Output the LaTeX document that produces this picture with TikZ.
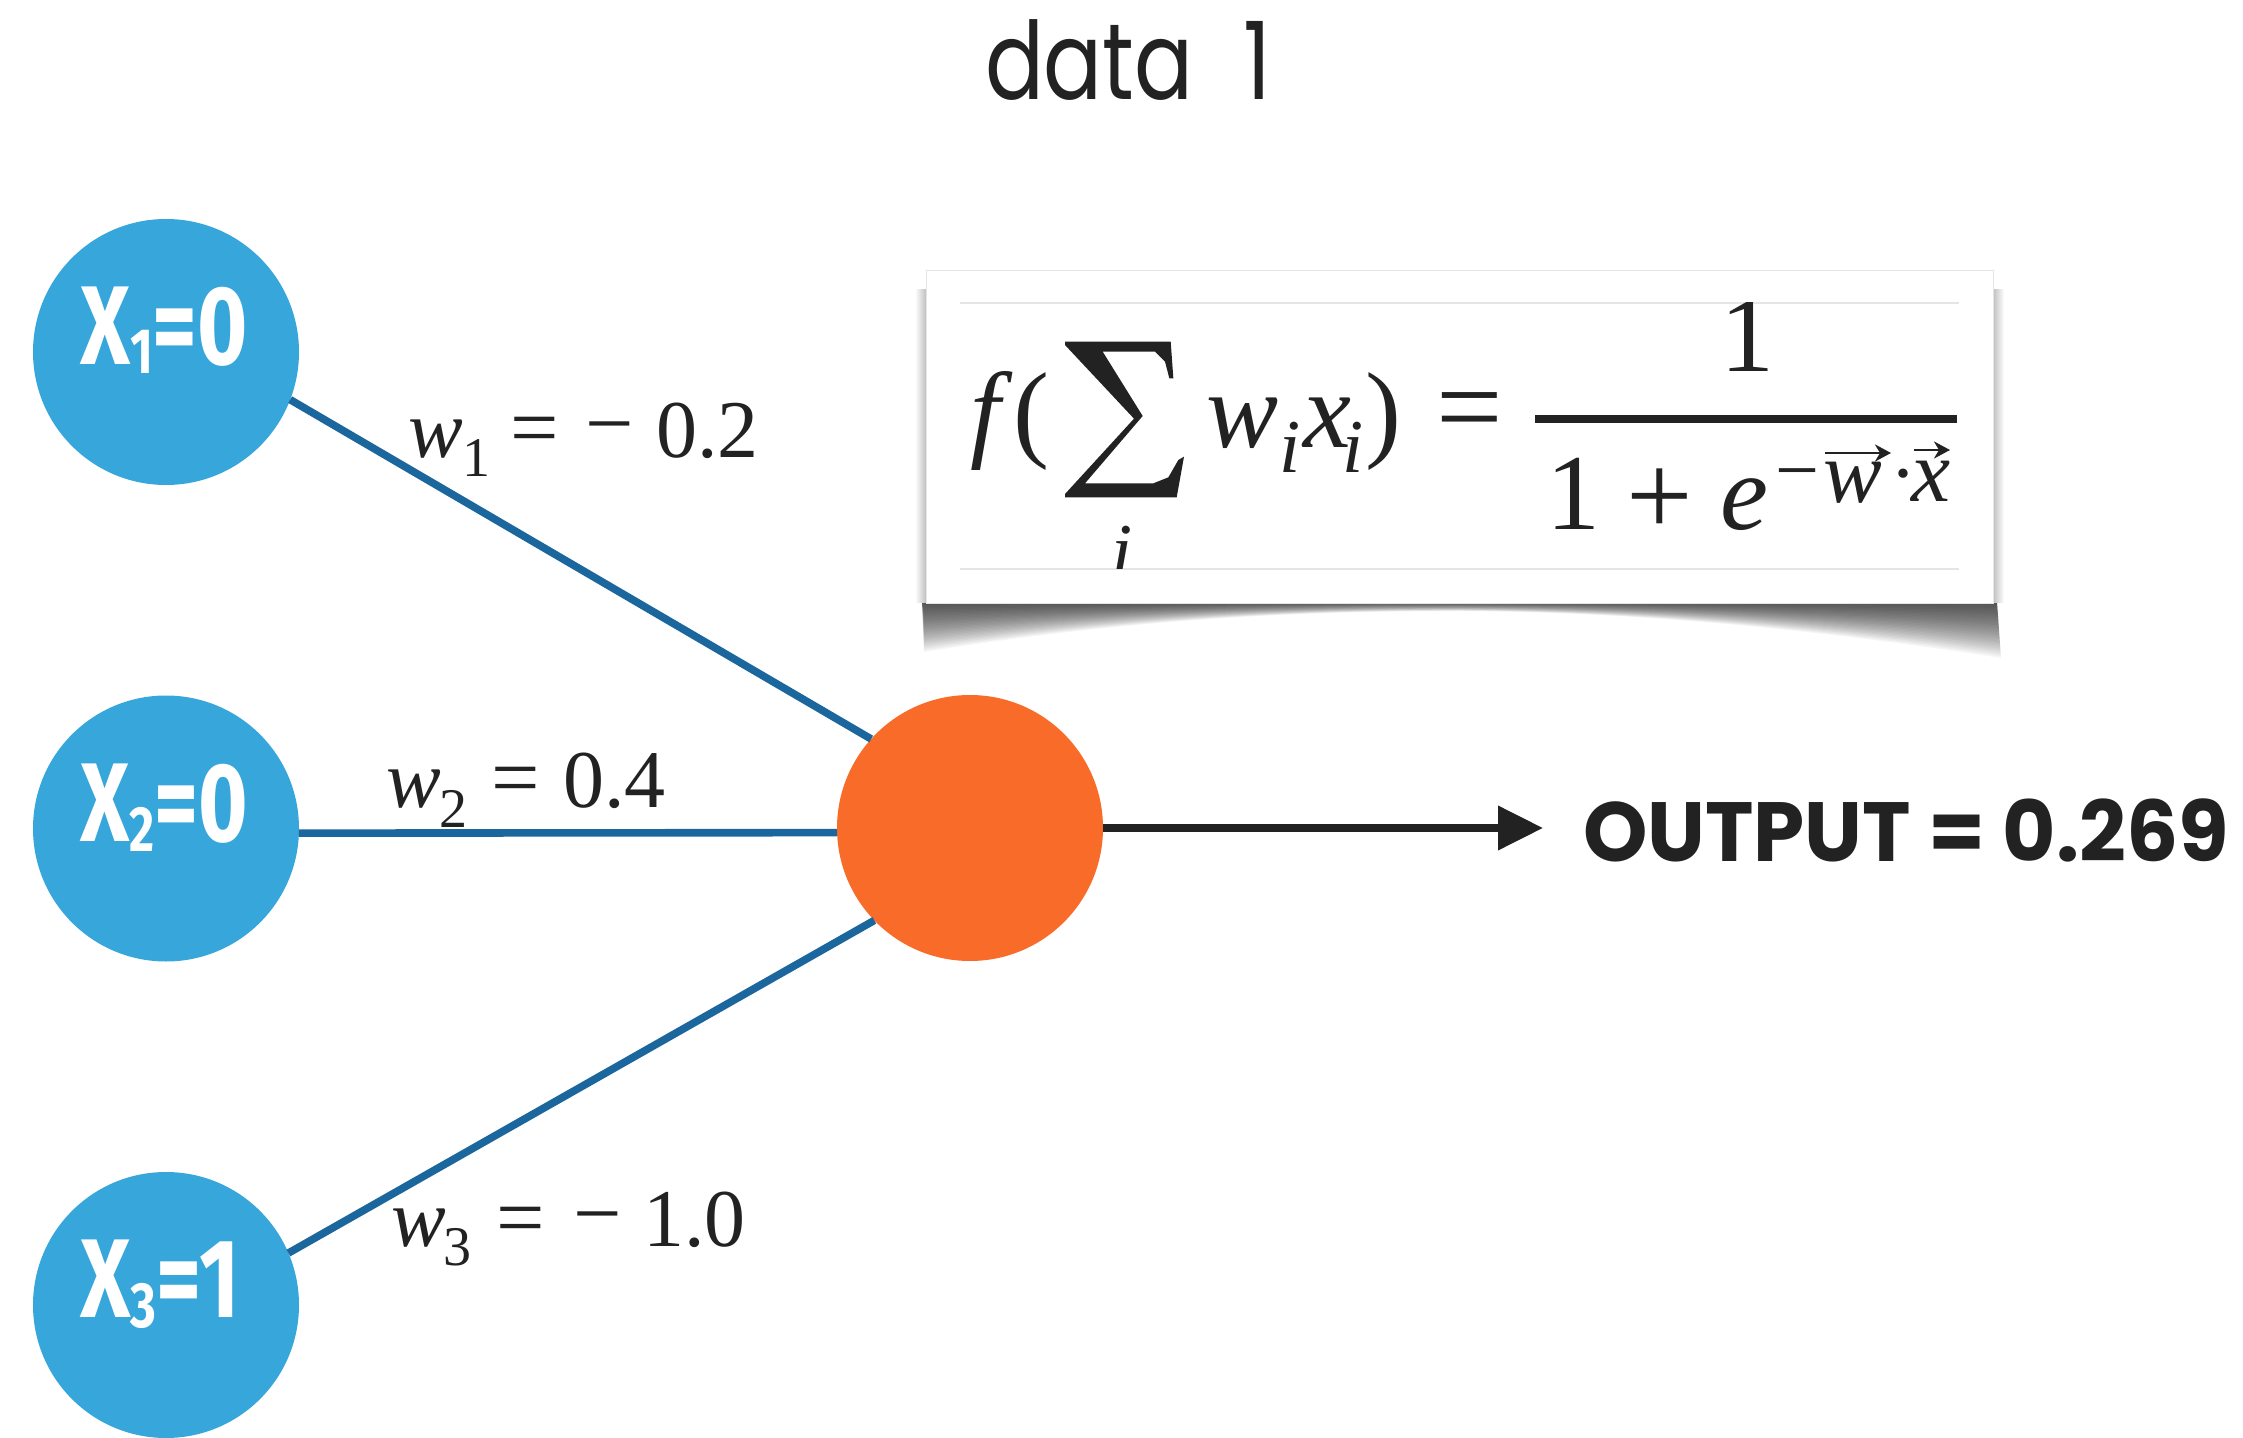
\documentclass[tikz,border=0pt]{standalone}
\usepackage{fontspec}
\usepackage{graphicx}
\setmainfont{Liberation Serif}
\newfontfamily\popfont{Poppins}
\newfontfamily\firafont{Fira Sans}
\usetikzlibrary{arrows.meta}
\newcommand\fsz[1]{\fontsize{#1}{#1}\selectfont}
\definecolor{inblue}{HTML}{36A6DB}
\definecolor{wblue}{HTML}{1B669C}
\definecolor{outorange}{HTML}{F86B29}
\definecolor{ink}{HTML}{222222}
\tikzset{
  txt/.style={inner sep=0pt, outer sep=0pt, text=ink},
  incircle/.style={circle, fill=inblue, minimum size=133pt, inner sep=0pt, outer sep=0pt},
  outcircle/.style={circle, fill=outorange, minimum size=133pt, inner sep=0pt, outer sep=0pt},
  wline/.style={draw=wblue, line width=3.8pt},
  xlab/.style={txt, text=white, anchor=base west},
  % weight labels
  li/.style={txt, anchor=base west, font=\fsz{41pt}\itshape},
  lr/.style={txt, anchor=base west, font=\fsz{41pt}},
  ls/.style={txt, anchor=base west, font=\fsz{28pt}},
  lop/.style={txt, anchor=center, font=\fsz{43pt}},
  % formula
  fm/.style={txt, anchor=base west, font=\fsz{54pt}},
  fi/.style={txt, anchor=base west, font=\fsz{54pt}\itshape},
  fis/.style={txt, anchor=base west, font=\fsz{38pt}\itshape},
  fsi/.style={txt, anchor=base west, font=\fsz{44pt}\itshape},
  fop/.style={txt, anchor=center, font=\fsz{59pt}},
  fsop/.style={txt, anchor=center, font=\fsz{39pt}},
  vecarrow/.style={draw=ink, line width=1.3pt, -{Stealth[length=8pt,width=8.5pt,inset=2.5pt]}},
  shadowlayer/.style={fill=black, opacity=0.034},
}
\begin{document}
\begin{tikzpicture}[x=0.5pt, y=-0.5pt]
\useasboundingbox (0,0) rectangle (2243,1438);

% title
\node[txt, anchor=base west] (title) at (985,100)
  {\resizebox{143pt}{\height}{\popfont\fsz{54pt}data\hspace{0.3em} 1}};

% ---------- formula card ----------
\foreach \k in {1,...,30}{
  \path[shadowlayer]
    (922,603) -- (1997,603) -- ({1997+0.133*\k},{603+1.833*\k})
    .. controls (1820,{603+0.9*\k}) and (1640,{603+0.3*\k}) .. (1460,{603+0.267*\k})
    .. controls (1260,{603+0.267*\k}) and (1100,{603+0.7*\k}) .. (924,{603+1.633*\k}) -- cycle;
}
\shade[left color=white, right color=black!25] (915,290) rectangle (926,603);
\shade[left color=black!25, right color=white] (1993,290) rectangle (2004,603);
\node[draw=black!10, line width=0.4pt, fill=white, minimum width=533.5pt, minimum height=166.5pt,
      inner sep=0pt, outer sep=0pt] (card) at (1459.5,436.5) {};
\draw[black!10, line width=0.6pt] (960,303) -- (1959,303);
\draw[black!10, line width=0.6pt] (960,569) -- (1959,569);

\begin{scope}
\clip (926,303) rectangle (1993,569);
\node[fi] (ff) at (970,448) {f};
\node[fm] (fl) at (1013,448) {(};
% summation sign
\begin{scope}[shift={(920,260)}, x=0.16667pt, y=-0.16667pt]
\fill[ink] (435,245) -- (752,245) -- (760,355) -- (748,355) -- (735,305) -- (705,275)
  -- (548,275) -- (668,468) -- (495,670) -- (700,670) -- (745,652) -- (775,600)
  -- (792,590) -- (770,712) -- (435,712) -- (435,702) -- (642,476) -- (435,255) -- cycle;
\end{scope}
\node[fis] (fsi) at (1111,577) {i};
\node[fi] (fw) at (1206,448) {w};
\node[fis] (fwi) at (1279,473) {i};
\node[fi] (fx) at (1303,448) {x};
\node[fis] (fxi) at (1342,473) {i};
\node[fm] (fr) at (1365,448) {)};
\node[fop] (feq) at (1470,420) {=};
\fill[ink] (1535,415) rectangle (1957,423);
\node[fm, anchor=base] (fn) at (1747,372) {1};
\node[fm, anchor=base] (fd) at (1573,530) {1};
\node[fop] (fp) at (1660,502) {+};
\node[fi] (fe) at (1720,530) {e};
\node[fsop] (fmi) at (1797,483) {−};
\node[fsi] (fsw) at (1823,503) {w};
\node[fsop] (fdot) at (1903,484) {·};
\node[fsi] (fsx) at (1911,502) {x};
\coordinate (wa1) at (1825,453);
\coordinate (wa2) at (1891,453);
\coordinate (xa1) at (1914,450);
\coordinate (xa2) at (1950,450);
\draw[vecarrow] (wa1) -- (wa2);
\draw[vecarrow] (xa1) -- (xa2);
\end{scope}

% ---------- neurons ----------
\node[incircle] (x1) at (166,352) {};
\node[incircle] (x2) at (166,828.5) {};
\node[incircle] (x3) at (166,1305) {};
\node[outcircle] (out) at (970,828) {};

\node[xlab] (x1t) at (80,365)
  {\resizebox{84pt}{\height}{\firafont\bfseries\fsz{56pt}X\raisebox{-4.5pt}{\fsz{32pt}1}=0}};
\node[xlab] (x2t) at (80,841)
  {\resizebox{84pt}{\height}{\firafont\bfseries\fsz{56pt}X\raisebox{-5pt}{\fsz{32pt}2}=0}};
\node[xlab] (x3t) at (80,1317)
  {\resizebox{80pt}{\height}{\firafont\bfseries\fsz{56pt}X\raisebox{-5pt}{\fsz{32pt}3}=1}};

\draw[wline] (x1.-21) -- (out.138.4);
\draw[wline] (x2.-2.5) -- (out.182.6);
\draw[wline] (x3.23.7) -- (out.224.1);

\coordinate (tip) at (1543,828);
\draw[draw=ink, line width=3.6pt, -{Triangle[length=22.5pt,width=21.5pt]}] (out.east) -- (tip);

\node[txt, anchor=base west] (outtxt) at (1583,861)
  {\resizebox{323pt}{\height}{\popfont\bfseries\fsz{42pt}OUTPUT = 0.269}};

% ---------- weight labels ----------
\node[li] (w1a) at (408,458) {w};
\node[ls] (w1b) at (462,477) {1};
\node[lop] (w1c) at (535,437) {=};
\node[lop] (w1d) at (610,437) {−};
\node[lr] (w1e) at (656,458) {0.2};

\node[li] (w2a) at (386,807) {w};
\node[ls] (w2b) at (439,827) {2};
\node[lop] (w2c) at (516,787) {=};
\node[lr] (w2e) at (563,807) {0.4};

\node[li] (w3a) at (391,1246) {w};
\node[ls] (w3b) at (443,1265) {3};
\node[lop] (w3c) at (521,1227) {=};
\node[lop] (w3d) at (598,1227) {−};
\node[lr] (w3e) at (643,1246) {1.0};
\end{tikzpicture}
\end{document}
